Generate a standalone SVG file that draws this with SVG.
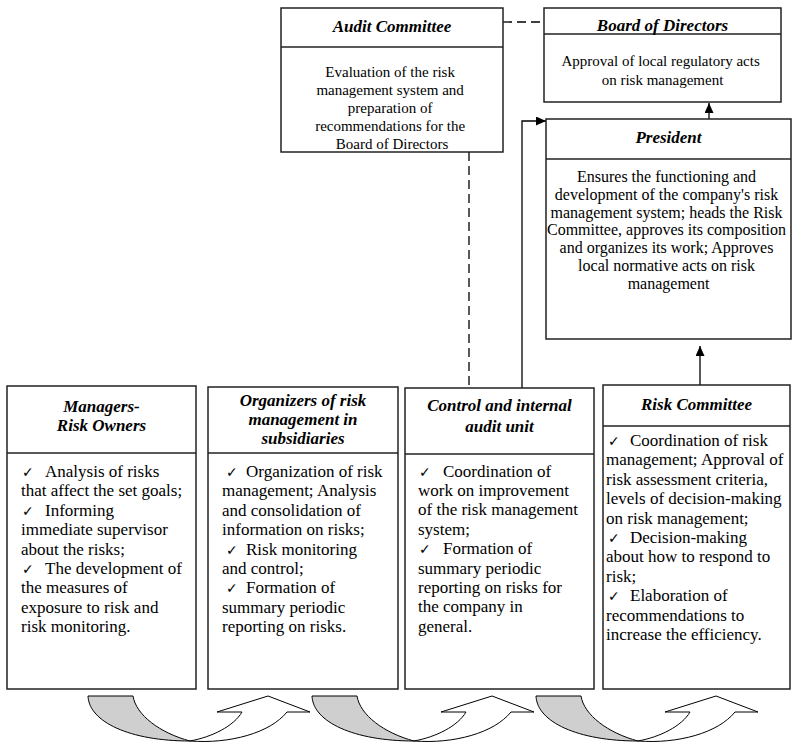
<svg xmlns="http://www.w3.org/2000/svg" xmlns:xlink="http://www.w3.org/1999/xlink" width="797" height="747" viewBox="0 0 797 747">
<style>
.box{fill:#fff;stroke:#222;stroke-width:1.5}
.div{stroke:#222;stroke-width:1.5}
.t{font-family:"Liberation Serif","Times New Roman",serif;font-size:17px;font-weight:bold;font-style:italic;fill:#000;text-anchor:middle}
.b15{font-family:"Liberation Serif","Times New Roman",serif;font-size:15px;fill:#000;text-anchor:middle}
.b16{font-family:"Liberation Serif","Times New Roman",serif;font-size:16px;fill:#000;text-anchor:middle}
.b{font-family:"Liberation Serif","Times New Roman",serif;font-size:17px;fill:#000}
.ck{font-family:"DejaVu Sans",sans-serif;font-size:14px}
.con{fill:none;stroke:#000;stroke-width:1.3}
.dash{fill:none;stroke:#000;stroke-width:1.3;stroke-dasharray:9 5}
.back{fill:#cfcfcf;stroke:#000;stroke-width:1}
.front{fill:#fff;stroke:#000;stroke-width:1}
</style>
<defs>
<marker id="ah" viewBox="0 0 10 9" refX="10" refY="4.5" markerWidth="10" markerHeight="9" markerUnits="userSpaceOnUse" orient="auto">
<path d="M0,0 L10,4.5 L0,9 Z" fill="#000"/>
</marker>
<g id="uturn">
<path class="back" d="M88,696 L133,696 C136,715 160,733 190,741 C130,741 89,722 88,696 Z"/>
<path class="front" d="M190,741 C230,744 270,733 287,712 L310,712 L268,696 L217,712 L242,712 C234,726 212,737 190,741 Z"/>
</g>
</defs>
<rect width="797" height="747" fill="#fff"/>

<g id="connectors">
<line class="dash" x1="503" y1="22" x2="544" y2="22"/>
<line class="dash" x1="469" y1="152" x2="469" y2="388"/>
<line class="con" x1="709" y1="119" x2="709" y2="103" marker-end="url(#ah)"/>
<line class="con" x1="700" y1="385" x2="700" y2="346" marker-end="url(#ah)"/>
<polyline class="con" points="522,388 522,121 546,121" marker-end="url(#ah)"/>
</g>

<g id="audit-committee">
<rect class="box" x="281" y="8" width="222" height="144"/>
<line class="div" x1="281" y1="47" x2="503" y2="47"/>
<text class="t" x="392" y="32">Audit Committee</text>
<text class="b15">
<tspan x="392" y="77">Evaluation of the risk</tspan>
<tspan x="392" y="94.9">management system and</tspan>
<tspan x="392" y="112.8">preparation of</tspan>
<tspan x="392" y="130.7">recommendations for the</tspan>
<tspan x="392" y="148.6">Board of Directors</tspan>
</text>
</g>

<g id="board-of-directors">
<rect class="box" x="544" y="8" width="237" height="94"/>
<line class="div" x1="544" y1="34" x2="781" y2="34"/>
<text class="t" x="662.5" y="31">Board of Directors</text>
<text class="b15">
<tspan x="662.5" y="66">Approval of local regulatory acts</tspan>
<tspan x="662.5" y="85">on risk management</tspan>
</text>
</g>

<g id="president">
<rect class="box" x="546" y="119" width="245" height="220"/>
<line class="div" x1="546" y1="159" x2="791" y2="159"/>
<text class="t" x="668.5" y="143">President</text>
<text class="b16">
<tspan x="668.5" y="182">Ensures the functioning and</tspan>
<tspan x="668.5" y="199.8">development of the company's risk</tspan>
<tspan x="668.5" y="217.6">management system; heads the Risk</tspan>
<tspan x="668.5" y="235.4">Committee, approves its composition</tspan>
<tspan x="668.5" y="253.2">and organizes its work; Approves</tspan>
<tspan x="668.5" y="271">local normative acts on risk</tspan>
<tspan x="668.5" y="288.8">management</tspan>
</text>
</g>

<g id="managers-risk-owners">
<rect class="box" x="7" y="386" width="189" height="303"/>
<line class="div" x1="7" y1="453" x2="196" y2="453"/>
<text class="t"><tspan x="101.5" y="412">Managers-</tspan><tspan x="101.5" y="431">Risk Owners</tspan></text>
<text class="b">
<tspan x="22" y="477" class="ck">✓</tspan><tspan x="45" y="477">Analysis of risks</tspan>
<tspan x="21" y="496.4">that affect the set goals;</tspan>
<tspan x="22" y="515.8" class="ck">✓</tspan><tspan x="45" y="515.8">Informing</tspan>
<tspan x="21" y="535.2">immediate supervisor</tspan>
<tspan x="21" y="554.6">about the risks;</tspan>
<tspan x="22" y="574" class="ck">✓</tspan><tspan x="45" y="574">The development of</tspan>
<tspan x="21" y="593.4">the measures of</tspan>
<tspan x="21" y="612.8">exposure to risk and</tspan>
<tspan x="21" y="632.2">risk monitoring.</tspan>
</text>
</g>

<g id="organizers-subsidiaries">
<rect class="box" x="208" y="387" width="190" height="302"/>
<line class="div" x1="208" y1="453" x2="398" y2="453"/>
<text class="t"><tspan x="303" y="406">Organizers of risk</tspan><tspan x="303" y="425">management in</tspan><tspan x="303" y="444">subsidiaries</tspan></text>
<text class="b">
<tspan x="226" y="477" class="ck">✓</tspan><tspan x="246" y="477">Organization of risk</tspan>
<tspan x="222" y="496.4">management; Analysis</tspan>
<tspan x="222" y="515.8">and consolidation of</tspan>
<tspan x="222" y="535.2">information on risks;</tspan>
<tspan x="226" y="554.6" class="ck">✓</tspan><tspan x="246" y="554.6">Risk monitoring</tspan>
<tspan x="222" y="574">and control;</tspan>
<tspan x="226" y="593.4" class="ck">✓</tspan><tspan x="246" y="593.4">Formation of</tspan>
<tspan x="222" y="612.8">summary periodic</tspan>
<tspan x="222" y="632.2">reporting on risks.</tspan>
</text>
</g>

<g id="control-internal-audit">
<rect class="box" x="405" y="388" width="189" height="301"/>
<line class="div" x1="405" y1="454" x2="594" y2="454"/>
<text class="t"><tspan x="499.5" y="411">Control and internal</tspan><tspan x="499.5" y="432">audit unit</tspan></text>
<text class="b">
<tspan x="419" y="476.5" class="ck">✓</tspan><tspan x="443" y="476.5">Coordination of</tspan>
<tspan x="418" y="495.9">work on improvement</tspan>
<tspan x="418" y="515.3">of the risk management</tspan>
<tspan x="418" y="534.7">system;</tspan>
<tspan x="419" y="554.1" class="ck">✓</tspan><tspan x="443" y="554.1">Formation of</tspan>
<tspan x="418" y="573.5">summary periodic</tspan>
<tspan x="418" y="592.9">reporting on risks for</tspan>
<tspan x="418" y="612.3">the company in</tspan>
<tspan x="418" y="631.7">general.</tspan>
</text>
</g>

<g id="risk-committee">
<rect class="box" x="603" y="385" width="187" height="304"/>
<line class="div" x1="603" y1="426" x2="790" y2="426"/>
<text class="t" x="696.5" y="410">Risk Committee</text>
<text class="b">
<tspan x="608" y="446" class="ck">✓</tspan><tspan x="630" y="446">Coordination of risk</tspan>
<tspan x="606" y="465.4">management; Approval of</tspan>
<tspan x="606" y="484.8">risk assessment criteria,</tspan>
<tspan x="606" y="504.2">levels of decision-making</tspan>
<tspan x="606" y="523.6">on risk management;</tspan>
<tspan x="608" y="543" class="ck">✓</tspan><tspan x="630" y="543">Decision-making</tspan>
<tspan x="606" y="562.4">about how to respond to</tspan>
<tspan x="606" y="581.8">risk;</tspan>
<tspan x="608" y="601.2" class="ck">✓</tspan><tspan x="630" y="601.2">Elaboration of</tspan>
<tspan x="606" y="620.6">recommendations to</tspan>
<tspan x="606" y="640">increase the efficiency.</tspan>
</text>
</g>

<g id="flow-arrows">
<use xlink:href="#uturn"/>
<use xlink:href="#uturn" transform="translate(224,0)"/>
<use xlink:href="#uturn" transform="translate(448,0)"/>
</g>
</svg>
